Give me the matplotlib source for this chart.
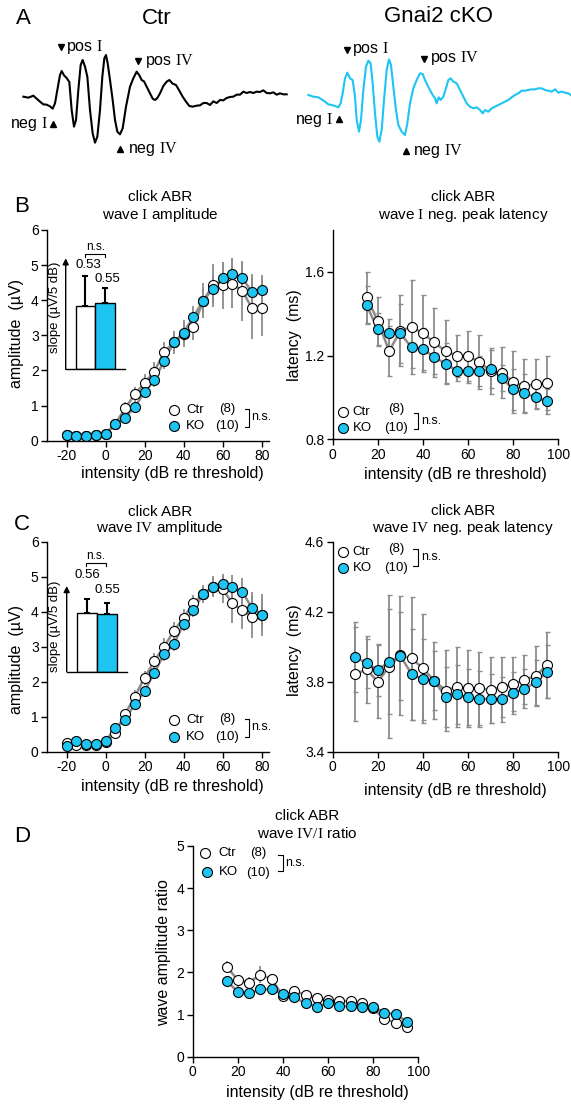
import numpy as np
import matplotlib.pyplot as plt

plt.rcParams['font.family'] = ['Liberation Sans', 'DejaVu Sans']
plt.rcParams['mathtext.fontset'] = 'custom'
plt.rcParams['mathtext.rm'] = 'Liberation Serif'
plt.rcParams['mathtext.it'] = 'Liberation Serif:italic'
plt.rcParams['mathtext.bf'] = 'Liberation Serif:bold'
plt.rcParams['axes.unicode_minus'] = False

W, H = 571, 1104
BLUE = '#1ec5f2'
GREY = '#8c8c8c'

# ---- panel A traces (screen units of the original picture)
ctr_trace_x = [70, 85, 100, 110, 120, 130, 140, 150, 158, 165, 172, 180, 185, 192, 200, 208, 215, 222, 228, 235,
               242, 248, 255, 262, 270, 278, 285, 292, 300, 307, 313, 318, 323, 330, 338, 345, 352, 360, 368, 378,
               390, 400, 410, 418, 425, 432, 440, 450, 458, 465, 472, 480, 490, 500, 508, 518, 528, 538, 548, 558,
               568, 578, 590, 600, 610, 620, 630, 640, 650, 660, 670, 680, 690, 700, 710, 720, 730, 740, 750, 760,
               770, 780, 790, 800, 810, 820, 830, 840, 850, 860]
ctr_trace_y = [290, 293, 287, 296, 305, 313, 314, 319, 326, 310, 270, 225, 213, 226, 234, 246, 330, 380, 360, 270,
               195, 180, 200, 230, 330, 400, 428, 410, 330, 230, 175, 165, 190, 240, 300, 360, 395, 403, 385, 320,
               260, 235, 215, 226, 240, 244, 260, 280, 296, 300, 294, 280, 258, 245, 240, 251, 255, 272, 290, 305,
               318, 320, 317, 316, 309, 309, 315, 304, 309, 300, 301, 294, 291, 290, 284, 284, 275, 279, 276, 279,
               275, 276, 271, 279, 280, 277, 284, 280, 283, 283]
ko_trace_x = [55, 70, 85, 95, 105, 115, 125, 135, 145, 152, 158, 165, 172, 180, 188, 195, 200, 207, 213, 220,
              228, 235, 242, 248, 255, 262, 268, 275, 282, 290, 297, 303, 310, 318, 325, 335, 345, 352, 360, 370,
              380, 390, 398, 405, 412, 420, 428, 435, 440, 446, 452, 460, 468, 475, 482, 490, 500, 510, 520, 530,
              540, 550, 560, 570, 578, 585, 595, 605, 615, 625, 635, 645, 655, 665, 675, 685, 695, 705, 715, 725,
              735, 745, 755, 765, 775, 785, 795, 805, 815, 825, 835, 842]
ko_trace_y = [285, 290, 292, 298, 305, 313, 315, 318, 322, 310, 280, 235, 218, 235, 240, 290, 360, 395, 360, 270,
              200, 182, 190, 250, 340, 410, 425, 390, 300, 210, 178, 195, 260, 330, 375, 395, 405, 370, 310, 265,
              240, 220, 222, 240, 255, 270, 285, 295, 310, 292, 300, 290, 265, 240, 235, 245, 250, 270, 290, 310,
              320, 325, 322, 330, 340, 330, 335, 325, 320, 315, 310, 305, 300, 292, 285, 280, 272, 272, 270, 268,
              268, 265, 265, 270, 272, 275, 268, 278, 275, 278, 280, 285]

# ---- panel B: wave I
amp_x = [-20, -15, -10, -5, 0, 5, 10, 15, 20, 25, 30, 35, 40, 45, 50, 55, 60, 65, 70, 75, 80]
amp1_ctr = [0.15, 0.13, 0.13, 0.15, 0.18, 0.48, 0.92, 1.32, 1.65, 1.97, 2.52, 2.80, 3.05, 3.25, 3.98, 4.42, 4.42,
            4.47, 4.27, 3.78, 3.78]
amp1_ctr_err = [0.04, 0.04, 0.04, 0.04, 0.05, 0.10, 0.18, 0.22, 0.25, 0.28, 0.30, 0.32, 0.38, 0.38, 0.50, 0.60,
                0.68, 0.70, 0.85, 0.87, 0.80]
amp1_ko = [0.17, 0.13, 0.12, 0.15, 0.19, 0.48, 0.66, 0.95, 1.40, 1.72, 2.27, 2.80, 3.08, 3.53, 3.98, 4.33, 4.63,
           4.75, 4.63, 4.24, 4.28]
amp1_ko_err = [0.04, 0.04, 0.04, 0.04, 0.05, 0.08, 0.12, 0.15, 0.18, 0.20, 0.22, 0.25, 0.28, 0.30, 0.35, 0.40,
               0.45, 0.45, 0.45, 0.50, 0.45]

lat_x1 = [15, 20, 25, 30, 35, 40, 45, 50, 55, 60, 65, 70, 75, 80, 85, 90, 95]
lat1_ctr = [1.478, 1.366, 1.222, 1.318, 1.337, 1.306, 1.263, 1.221, 1.199, 1.199, 1.168, 1.127, 1.119, 1.074,
            1.054, 1.063, 1.070]
lat1_ctr_err = [0.12, 0.115, 0.12, 0.17, 0.226, 0.185, 0.164, 0.15, 0.10, 0.12, 0.13, 0.11, 0.12, 0.15, 0.13,
                0.12, 0.13]
lat1_ko = [1.441, 1.325, 1.306, 1.306, 1.239, 1.232, 1.192, 1.162, 1.127, 1.127, 1.127, 1.136, 1.093, 1.038,
           1.022, 1.000, 0.982]
lat1_ko_err = [0.09, 0.08, 0.07, 0.14, 0.10, 0.10, 0.08, 0.10, 0.05, 0.06, 0.07, 0.09, 0.06, 0.10, 0.09, 0.05,
               0.06]

# ---- panel C: wave IV
amp4_ctr = [0.24, 0.19, 0.19, 0.18, 0.27, 0.54, 1.08, 1.57, 2.12, 2.59, 3.00, 3.45, 3.83, 4.24, 4.50, 4.71, 4.64,
            4.24, 4.05, 3.86, 3.92]
amp4_ctr_err = [0.05, 0.05, 0.05, 0.05, 0.06, 0.10, 0.15, 0.18, 0.20, 0.22, 0.25, 0.25, 0.25, 0.25, 0.25, 0.30,
                0.38, 0.55, 0.55, 0.60, 0.60]
amp4_ko = [0.16, 0.30, 0.21, 0.21, 0.31, 0.67, 0.92, 1.36, 1.73, 2.26, 2.78, 3.08, 3.65, 4.05, 4.50, 4.71, 4.78,
           4.70, 4.57, 4.11, 3.92]
amp4_ko_err = [0.04, 0.05, 0.04, 0.04, 0.05, 0.08, 0.12, 0.14, 0.16, 0.18, 0.20, 0.20, 0.20, 0.20, 0.20, 0.25,
               0.30, 0.35, 0.40, 0.45, 0.45]

lat_x4 = [10, 15, 20, 25, 30, 35, 40, 45, 50, 55, 60, 65, 70, 75, 80, 85, 90, 95]
lat4_ctr = [3.844, 3.870, 3.800, 3.886, 3.952, 3.933, 3.876, 3.806, 3.749, 3.771, 3.762, 3.762, 3.752, 3.771,
            3.785, 3.810, 3.834, 3.895]
lat4_ctr_err = [0.27, 0.19, 0.21, 0.41, 0.34, 0.35, 0.31, 0.22, 0.23, 0.23, 0.22, 0.21, 0.19, 0.17, 0.155, 0.14,
                0.17, 0.19]
lat4_ko = [3.943, 3.905, 3.867, 3.914, 3.947, 3.844, 3.813, 3.806, 3.714, 3.728, 3.710, 3.699, 3.703, 3.699,
           3.737, 3.760, 3.796, 3.857]
lat4_ko_err = [0.20, 0.14, 0.15, 0.30, 0.25, 0.26, 0.23, 0.17, 0.17, 0.17, 0.16, 0.16, 0.14, 0.13, 0.12, 0.11,
               0.13, 0.15]

# ---- panel D: IV/I ratio
ratio_ctr = [2.14, 1.82, 1.76, 1.95, 1.84, 1.44, 1.56, 1.46, 1.40, 1.34, 1.33, 1.32, 1.27, 1.15, 0.89, 0.81, 0.70]
ratio_ctr_err = [0.12, 0.12, 0.12, 0.2, 0.12, 0.1, 0.1, 0.08, 0.07, 0.06, 0.06, 0.06, 0.06, 0.06, 0.07, 0.07, 0.06]
ratio_ko = [1.80, 1.54, 1.50, 1.60, 1.60, 1.49, 1.41, 1.27, 1.19, 1.27, 1.20, 1.20, 1.17, 1.19, 1.04, 1.01, 0.83]
ratio_ko_err = [0.12, 0.15, 0.1, 0.1, 0.1, 0.08, 0.08, 0.07, 0.06, 0.06, 0.06, 0.05, 0.05, 0.05, 0.06, 0.06, 0.06]

# ---- slope insets
slope_groups = ['Ctr', 'KO']
slope1 = [0.53, 0.55]
slope1_err = [0.25, 0.125]
slope4 = [0.56, 0.55]
slope4_err = [0.127, 0.105]

fig = plt.figure(figsize=(W / 100, H / 100), dpi=100)


def box(l, t, r, b):
    return [l / W, 1 - b / H, (r - l) / W, (b - t) / H]


def ftext(x, y, s, **kw):
    fig.text(x / W, 1 - y / H, s, **kw)


# ---------------- A
def trace_axes(rect, w, tx, ty, color, marks):
    ax = fig.add_axes(box(*rect))
    ax.plot(tx, ty, color=color, lw=1.5)
    ax.set_xlim(0, w)
    ax.set_ylim(510, 0)
    ax.axis('off')
    for (mx, my, m), (lx, ly, lab, ha) in marks:
        ax.plot(mx, my, m, color='k', ms=5)
        ax.text(lx, ly, lab, ha=ha, va='center', fontsize=11.5)
    return ax


trace_axes((0, 0, 290, 170), 870, ctr_trace_x, ctr_trace_y, 'k',
           [((182, 142, 'v'), (198, 140, r'pos $\mathrm{I}$', 'left')),
            ((415, 182, 'v'), (435, 182, r'pos $\mathrm{IV}$', 'left')),
            ((160, 373, '^'), (143, 373, r'neg $\mathrm{I}$', 'right')),
            ((360, 448, '^'), (383, 448, r'neg $\mathrm{IV}$', 'left'))])
trace_axes((290, 0, 571, 170), 843, ko_trace_x, ko_trace_y, BLUE,
           [((170, 150, 'v'), (185, 148, r'pos $\mathrm{I}$', 'left')),
            ((403, 177, 'v'), (420, 175, r'pos $\mathrm{IV}$', 'left')),
            ((148, 358, '^'), (128, 360, r'neg $\mathrm{I}$', 'right')),
            ((347, 452, '^'), (370, 452, r'neg $\mathrm{IV}$', 'left'))])
ftext(23, 18, 'A', fontsize=16, ha='center', va='center')
ftext(157, 18, 'Ctr', fontsize=16, ha='center', va='center')
ftext(438, 16, 'Gnai2 cKO', fontsize=16, ha='center', va='center')


# ---------------- data panels
def panel(rect, xlim, ylim, xticks, yticks, x, ctr, ctr_err, ko, ko_err, caps):
    ax = fig.add_axes(box(*rect))
    ax.errorbar(x, ctr, yerr=ctr_err, fmt='none', ecolor=GREY, elinewidth=1.3, capsize=caps, capthick=1.0,
                zorder=1)
    ax.errorbar(x, ko, yerr=ko_err, fmt='none', ecolor=GREY, elinewidth=1.3, capsize=caps, capthick=1.0,
                zorder=1)
    ax.plot(x, ctr, '-', color=GREY, lw=1.8, zorder=2)
    ax.plot(x, ko, '-', color=GREY, lw=1.8, zorder=2)
    ax.plot(x, ctr, 'o', mfc='white', mec='k', ms=7.2, mew=0.8, zorder=3)
    ax.plot(x, ko, 'o', mfc=BLUE, mec='k', ms=7.2, mew=0.8, zorder=4)
    for s in ['top', 'right']:
        ax.spines[s].set_visible(False)
    for s in ['left', 'bottom']:
        ax.spines[s].set_linewidth(1.0)
    ax.set_xlim(*xlim)
    ax.set_ylim(*ylim)
    ax.set_xticks(xticks)
    ax.set_yticks(yticks)
    ax.tick_params(direction='out', length=4, width=1.0, labelsize=10, pad=2)
    return ax


def legend(ax, cx, cy, tx, nx, ny, bx0, bx1, by, nsx, nsy):
    ax.plot(cx[0], cy[0], 'o', mfc='white', mec='k', ms=7.2, mew=0.8, transform=ax.transAxes, clip_on=False)
    ax.plot(cx[1], cy[1], 'o', mfc=BLUE, mec='k', ms=7.2, mew=0.8, transform=ax.transAxes, clip_on=False)
    ax.text(tx, cy[0], 'Ctr', transform=ax.transAxes, fontsize=9.5, va='center')
    ax.text(tx, cy[1], 'KO', transform=ax.transAxes, fontsize=9.5, va='center')
    ax.text(nx, ny[0], '(8)', transform=ax.transAxes, fontsize=9.5, va='center', ha='center')
    ax.text(nx, ny[1], '(10)', transform=ax.transAxes, fontsize=9.5, va='center', ha='center')
    ax.plot([bx0, bx1, bx1, bx0], [by[0], by[0], by[1], by[1]], color='k', lw=0.8, transform=ax.transAxes,
            clip_on=False)
    ax.text(nsx, nsy, 'n.s.', transform=ax.transAxes, fontsize=9, va='center')


def inset(rect, ytop, vals, errs, labs, bracket, ns_y):
    ax = fig.add_axes(box(*rect))
    ax.errorbar([1, 2], vals, yerr=[[0, 0], errs], fmt='none', ecolor='k', elinewidth=1.5, capsize=2.5,
                capthick=1.5, zorder=1)
    ax.bar([1, 2], vals, width=1.0, color=['white', BLUE], edgecolor='k', linewidth=1.0, zorder=2)
    ax.set_xlim(0, 3)
    ax.set_ylim(0, ytop)
    for s in ['top', 'right', 'left']:
        ax.spines[s].set_visible(False)
    ax.spines['bottom'].set_linewidth(1.0)
    ax.set_xticks([])
    ax.set_yticks([])
    ax.patch.set_alpha(0)
    ax.annotate('', xy=(0, 1), xytext=(0, 0), xycoords='axes fraction',
                arrowprops=dict(arrowstyle='-|>', lw=1.0, color='k', mutation_scale=9, shrinkA=0, shrinkB=0))
    for v, (lx, ly) in zip(vals, labs):
        ax.text(lx, ly, f'{v:.2f}', ha='center', va='center', fontsize=9.5)
    x0, x1, y0, y1 = bracket
    ax.plot([x0, x0, x1, x1], [y0, y1, y1, y0], color='k', lw=0.8, clip_on=False)
    ax.text((x0 + x1) / 2, ns_y, 'n.s.', ha='center', va='bottom', fontsize=8.5)
    return ax


# B
axB1 = panel((47, 230, 268.5, 440.7), (-30, 83.5), (0, 6), [-20, 0, 20, 40, 60, 80], range(7),
             amp_x, amp1_ctr, amp1_ctr_err, amp1_ko, amp1_ko_err, 0)
legend(axB1, (0.575, 0.575), (0.146, 0.07), 0.629, 0.813, (0.15, 0.068), 0.896, 0.911, (0.150, 0.067), 0.922,
       0.111)
inset((65.7, 258.3, 125, 369.3), 0.925, slope1, slope1_err, [(1.13, 0.87), (2.1, 0.75)],
      (1.0, 2.0, 0.933, 0.96), 0.97)
ftext(55, 307, 'slope (µV/5 dB)', rotation=90, ha='center', va='center', fontsize=9.5)

axB2 = panel((332.7, 230, 558.3, 439.3), (0, 100), (0.8, 1.8), [0, 20, 40, 60, 80, 100], [0.8, 1.2, 1.6],
             lat_x1, lat1_ctr, lat1_ctr_err, lat1_ko, lat1_ko_err, 1.8)
legend(axB2, (0.047, 0.047), (0.132, 0.053), 0.089, 0.281, (0.143, 0.053), 0.36, 0.38, (0.124, 0.048), 0.39,
       0.089)

# C
axC1 = panel((47, 541.7, 268.5, 751.7), (-30, 83.5), (0, 6), [-20, 0, 20, 40, 60, 80], range(7),
             amp_x, amp4_ctr, amp4_ctr_err, amp4_ko, amp4_ko_err, 0)
legend(axC1, (0.575, 0.575), (0.151, 0.071), 0.629, 0.813, (0.155, 0.071), 0.896, 0.911, (0.155, 0.072), 0.922,
       0.116)
inset((66.7, 586, 126.7, 671.7), 0.813, slope4, slope4_err, [(1.04, 0.917), (2.03, 0.775)],
      (0.97, 1.95, 1.003, 1.034), 1.045)
ftext(55, 626, 'slope (µV/5 dB)', rotation=90, ha='center', va='center', fontsize=9.5)

axC2 = panel((332.7, 541.7, 558.3, 751.7), (0, 100), (3.4, 4.6), [0, 20, 40, 60, 80, 100],
             [3.4, 3.8, 4.2, 4.6], lat_x4, lat4_ctr, lat4_ctr_err, lat4_ko, lat4_ko_err, 1.8)
legend(axC2, (0.047, 0.047), (0.952, 0.873), 0.089, 0.281, (0.964, 0.873), 0.358, 0.377, (0.964, 0.884), 0.39,
       0.929)

# D
axD = panel((192.7, 846, 418.3, 1056.7), (0, 100), (0, 5), [0, 20, 40, 60, 80, 100], range(6),
            lat_x1, ratio_ctr, ratio_ctr_err, ratio_ko, ratio_ko_err, 0)
legend(axD, (0.055, 0.062), (0.965, 0.878), 0.114, 0.291, (0.965, 0.873), 0.38, 0.399, (0.957, 0.883), 0.409,
       0.92)

# titles
for x, y1, y2, line2 in [(160, 197, 215, r'wave $\mathrm{I}$ amplitude'),
                         (463, 197, 215, r'wave $\mathrm{I}$ neg. peak latency'),
                         (160, 512, 528, r'wave $\mathrm{IV}$ amplitude'),
                         (463, 511, 528, r'wave $\mathrm{IV}$ neg. peak latency'),
                         (307, 816, 833, r'wave $\mathrm{IV/I}$ ratio')]:
    ftext(x, y1, 'click ABR', ha='center', va='center', fontsize=11)
    ftext(x, y2, line2, ha='center', va='center', fontsize=11)

# axis labels
for x, y in [(172, 473), (455, 475), (172, 787), (455, 790), (317, 1093)]:
    ftext(x, y, 'intensity (dB re threshold)', ha='center', va='center', fontsize=11.5)
for x, y, s in [(17, 333, 'amplitude  (µV)'), (294, 335, 'latency  (ms)'), (17, 660, 'amplitude  (µV)'),
                (294, 650, 'latency  (ms)'), (164, 953, 'wave amplitude ratio')]:
    ftext(x, y, s, ha='center', va='center', rotation=90, fontsize=11.5)

# panel letters
for x, y, s in [(22, 207, 'B'), (22, 524, 'C'), (22, 836, 'D')]:
    ftext(x, y, s, ha='center', va='center', fontsize=16)

fig.savefig('out.png', dpi=100)
